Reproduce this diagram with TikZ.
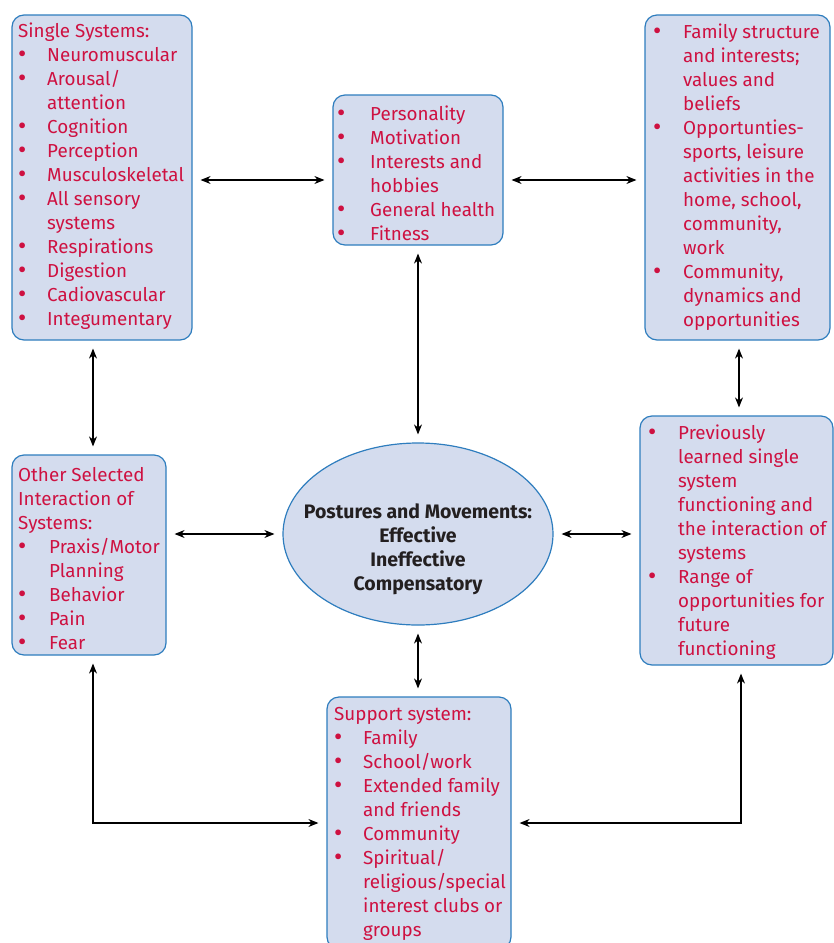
\documentclass[tikz,border=0pt]{standalone}
\usepackage{fontspec}
\setmainfont{Fira Sans}
\usetikzlibrary{arrows.meta,shapes.geometric}
\definecolor{crim}{RGB}{206,17,65}
\definecolor{boxfill}{RGB}{212,220,238}
\definecolor{boxline}{RGB}{46,125,190}
\definecolor{darktext}{RGB}{35,31,32}
\newcommand\bul{\raisebox{-1.3pt}{\scalebox{1.35}{\textbullet}}}
\newcommand\txtsz{\fontsize{18.8}{24}\selectfont}
\tikzset{
  panel/.style={rectangle, rounded corners=12pt, draw=boxline, fill=boxfill,
    line width=1.2pt, inner sep=0pt},
  txt/.style={anchor=base west, inner sep=0pt, text=crim, font=\txtsz},
  conn/.style={{Stealth[length=10pt,width=8pt]}-{Stealth[length=10pt,width=8pt]},
    line width=1.1pt, shorten <=8pt, shorten >=8pt},
}
\begin{document}
\begin{tikzpicture}[x=1pt,y=-1pt]
\useasboundingbox (0,0) rectangle (834,943);

% panels
\node[panel, minimum width=180pt, minimum height=325pt] (ss)   at (102,177.5) {};
\node[panel, minimum width=170pt, minimum height=150pt] (pers) at (418,170) {};
\node[panel, minimum width=185pt, minimum height=325pt] (fam)  at (737.5,177.5) {};
\node[panel, minimum width=154pt, minimum height=200pt] (ose)  at (89,555) {};
\node[panel, minimum width=193pt, minimum height=249pt] (prev) at (736.5,540.5) {};
\node[panel, minimum width=184pt, minimum height=252pt] (sup)  at (419,823) {};
\node[ellipse, draw=boxline, fill=boxfill, line width=1.2pt, inner sep=0pt,
      minimum width=270pt, minimum height=182pt] (ell) at (418,534) {};

% panel texts
\node[txt] (ssT) at (18,37) {\begin{tabular}[t]{@{}p{29pt}@{}l@{}}
\multicolumn{2}{@{}l@{}}{Single Systems:}\\
\bul & Neuromuscular\\
\bul & Arousal/\\
     & attention\\
\bul & Cognition\\
\bul & Perception\\
\bul & Musculoskeletal\\
\bul & All sensory\\
     & systems\\
\bul & Respirations\\
\bul & Digestion\\
\bul & Cadiovascular\\
\bul & Integumentary
\end{tabular}};

\node[txt] (persT) at (337,120) {\begin{tabular}[t]{@{}p{33pt}@{}l@{}}
\bul & Personality\\
\bul & Motivation\\
\bul & Interests and\\
     & hobbies\\
\bul & General health\\
\bul & Fitness
\end{tabular}};

\node[txt] (famT) at (653,38) {\begin{tabular}[t]{@{}p{30pt}@{}l@{}}
\bul & Family structure\\
     & and interests;\\
     & values and\\
     & beliefs\\
\bul & Opportunties-\\
     & sports, leisure\\
     & activities in the\\
     & home, school,\\
     & community,\\
     & work\\
\bul & Community,\\
     & dynamics and\\
     & opportunities
\end{tabular}};

\node[txt] (oseT) at (18,481) {\begin{tabular}[t]{@{}p{31pt}@{}l@{}}
\multicolumn{2}{@{}l@{}}{Other Selected}\\
\multicolumn{2}{@{}l@{}}{Interaction of}\\
\multicolumn{2}{@{}l@{}}{Systems:}\\
\bul & Praxis/Motor\\
     & Planning\\
\bul & Behavior\\
\bul & Pain\\
\bul & Fear
\end{tabular}};

\node[txt] (prevT) at (648,439) {\begin{tabular}[t]{@{}p{30pt}@{}l@{}}
\bul & Previously\\
     & learned single\\
     & system\\
     & functioning and\\
     & the interaction of\\
     & systems\\
\bul & Range of\\
     & opportunities for\\
     & future\\
     & functioning
\end{tabular}};

\node[txt] (supT) at (334,720) {\begin{tabular}[t]{@{}p{29pt}@{}l@{}}
\multicolumn{2}{@{}l@{}}{Support system:}\\
\bul & Family\\
\bul & School/work\\
\bul & Extended family\\
     & and friends\\
\bul & Community\\
\bul & Spiritual/\\
     & religious/special\\
     & interest clubs or\\
     & groups
\end{tabular}};

\node[align=center, inner sep=0pt, text=darktext,
      font=\fontsize{19.5}{24}\selectfont\bfseries] (ellT) at (418,549)
  {Postures and Movements:\\Effective\\Ineffective\\Compensatory};

% connectors
\draw[conn] (ss.east |- 0,180) -- (pers.west |- 0,180);
\draw[conn] (pers.east |- 0,180) -- (fam.west |- 0,180);
\draw[conn] (pers.south) -- (ell.north);
\draw[conn] (ss.south -| 93,0) -- (ose.north -| 93,0);
\draw[conn] (fam.south -| 739,0) -- (prev.north -| 739,0);
\draw[conn] (ose.east |- ell.center) -- (ell.west);
\draw[conn] (ell.east) -- (prev.west |- ell.center);
\draw[conn] (ell.south) -- (sup.north -| ell.south);
\draw[conn] (ose.south -| 93,0) |- (sup.west |- 0,823);
\draw[conn] (prev.south -| 741,0) |- (sup.east |- 0,823);
\end{tikzpicture}
\end{document}
